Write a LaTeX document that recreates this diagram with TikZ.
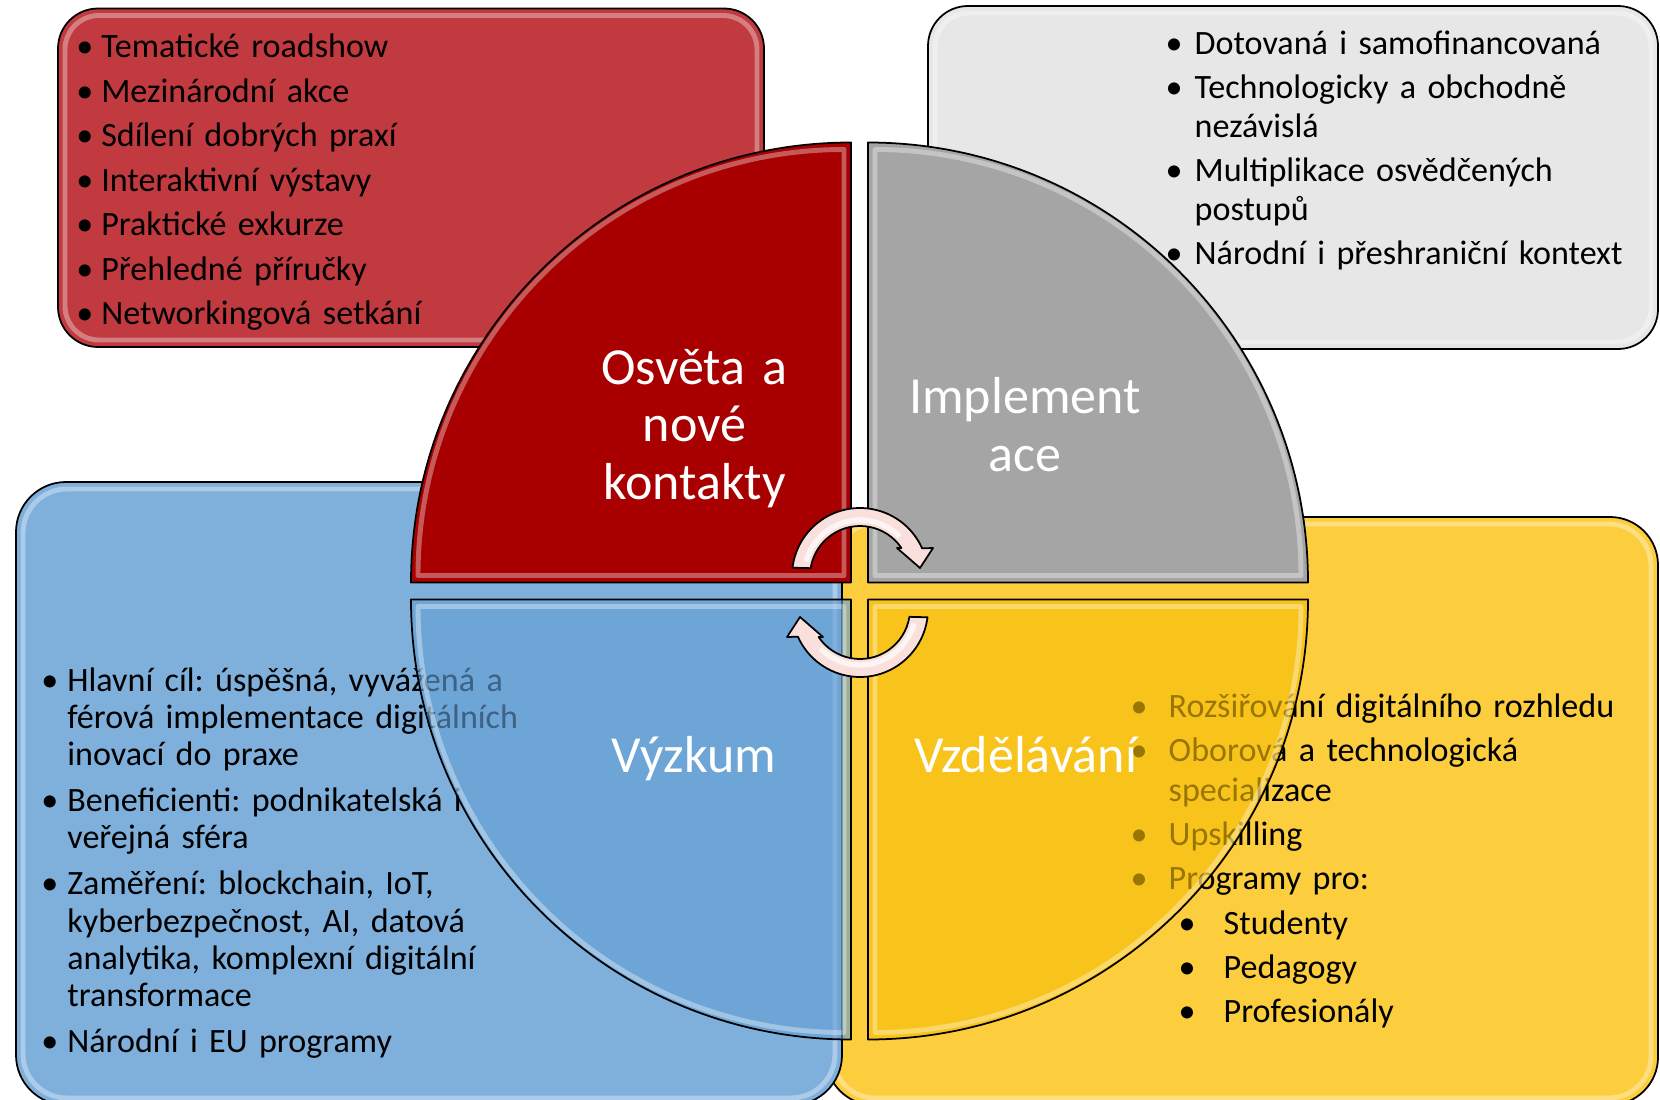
\documentclass[tikz,border=0pt]{standalone}
\usepackage{fontspec}
\setmainfont{Carlito}
\usetikzlibrary{calc}
\definecolor{redbox}{HTML}{C03A40}
\definecolor{redquad}{HTML}{A80000}
\definecolor{graybox}{HTML}{E7E7E7}
\definecolor{grayquad}{HTML}{A5A5A5}
\definecolor{bluebox}{HTML}{7FB0DC}
\definecolor{bluequad}{HTML}{649FD5}
\definecolor{yellowbox}{HTML}{FCCD3C}
\definecolor{yellowquad}{HTML}{F7C008}
\definecolor{arrowfill}{HTML}{F9E0DC}
\frenchspacing
% bullet items with hanging indent
\newcommand\bstart[1]{\hangindent=#1\hangafter=1\noindent\makebox[#1][l]{\textbullet}}
\newcommand\bitem[1]{\par\bstart{#1}}
\newcommand\sitem[2]{\par\noindent\hspace*{#1}\makebox[#2][l]{\textbullet}}
\tikzset{
	infobox/.style={draw=black, line width=0.5pt},
	gloss/.style={draw=white, draw opacity=0.35, line width=1.4pt},
	quad/.style={draw=black, line width=0.5pt},
	boxtext/.style={anchor=base west, inner sep=0pt, text width=#1},
	quadlabel/.style={anchor=base, inner sep=0pt, text width=3.4cm, align=center, text=white, font=\fontsize{14.8}{16.5}\selectfont},
	cycarrow/.style={draw=black, line width=0.5pt, fill=arrowfill},
}
\begin{document}
\begin{tikzpicture}[line join=round]
	\useasboundingbox (0,0) rectangle (16.6,10.99);
	\def\R{4.4} \def\r{4.26}
	% boxes behind the circle
	\draw[infobox, fill=redbox, rounded corners=0.4cm] (0.58,7.52) rectangle (7.64,10.905);
	\draw[gloss, rounded corners=0.34cm] (0.65,7.59) rectangle (7.57,10.835);
	\node[boxtext=6.5cm, font=\fontsize{9.7}{12.65}\selectfont] (osvetaitems) at (0.756,10.41)
	{\bstart{0.25cm}Tematické roadshow
	 \bitem{0.25cm}Mezinárodní akce
	 \bitem{0.25cm}Sdílení dobrých praxí
	 \bitem{0.25cm}Interaktivní výstavy
	 \bitem{0.25cm}Praktické exkurze
	 \bitem{0.25cm}Přehledné příručky
	 \bitem{0.25cm}Networkingová setkání};

	\draw[infobox, fill=graybox, rounded corners=0.4cm] (9.28,7.50) rectangle (16.58,10.93);
	\draw[gloss, rounded corners=0.34cm] (9.35,7.57) rectangle (16.51,10.86);
	\node[boxtext=4.8cm, font=\fontsize{9.7}{11.3}\selectfont] (implementaceitems) at (11.65,10.44)
	{\parskip=1pt
	 \bstart{0.29cm}Dotovaná i samofinancovaná
	 \bitem{0.29cm}Technologicky a obchodně\newline nezávislá
	 \bitem{0.29cm}Multiplikace osvědčených\newline postupů
	 \bitem{0.29cm}Národní i přeshraniční kontext};

	\draw[infobox, fill=yellowbox, rounded corners=0.48cm] (8.26,-0.06) rectangle (16.58,5.82);
	\draw[gloss, rounded corners=0.42cm] (8.33,0.01) rectangle (16.51,5.75);
	\node[boxtext=5cm, font=\fontsize{9.7}{11.55}\selectfont] (vzdelavaniitems) at (11.30,3.82)
	{\parskip=1pt
	 \bstart{0.38cm}Rozšiřování digitálního rozhledu
	 \bitem{0.38cm}Oborová a technologická\newline specializace
	 \bitem{0.38cm}Upskilling
	 \bitem{0.38cm}Programy pro:
	 \sitem{0.48cm}{0.45cm}Studenty
	 \sitem{0.48cm}{0.45cm}Pedagogy
	 \sitem{0.48cm}{0.45cm}Profesionály};

	\draw[infobox, fill=bluebox, rounded corners=0.5cm] (0.16,-0.06) rectangle (8.42,6.17);
	\draw[gloss, rounded corners=0.44cm] (0.23,0.01) rectangle (8.35,6.10);
	\node[boxtext=5.5cm, font=\fontsize{9.7}{10.6}\selectfont] (vyzkumitems) at (0.407,4.08)
	{\parskip=2.5pt
	 \bstart{0.26cm}Hlavní cíl: úspěšná, vyvážená a\newline férová implementace digitálních\newline inovací do praxe
	 \bitem{0.26cm}Beneficienti: podnikatelská i\newline veřejná sféra
	 \bitem{0.26cm}Zaměření: blockchain, IoT,\newline kyberbezpečnost, AI, datová\newline analytika, komplexní digitální\newline transformace
	 \bitem{0.26cm}Národní i EU programy};

	% the four quarters
	\coordinate (kred) at (8.51,5.165);
	\coordinate (kgray) at (8.68,5.165);
	\coordinate (kblue) at (8.51,4.995);
	\coordinate (kyellow) at (8.68,4.995);
	\filldraw[quad, fill=redquad] (kred) -- ++(-\R,0) arc[start angle=180, end angle=90, radius=\R] -- cycle;
	\draw[gloss] ($(kred)+(-0.07,0.07)$) -- ++(-\r,0) arc[start angle=180, end angle=90, radius=\r] -- cycle;
	\filldraw[quad, fill=grayquad] (kgray) -- ++(0,\R) arc[start angle=90, end angle=0, radius=\R] -- cycle;
	\draw[gloss] ($(kgray)+(0.07,0.07)$) -- ++(0,\r) arc[start angle=90, end angle=0, radius=\r] -- cycle;
	\filldraw[quad, fill=bluequad, fill opacity=0.62] (kblue) -- ++(0,-\R) arc[start angle=270, end angle=180, radius=\R] -- cycle;
	\draw[gloss] ($(kblue)+(-0.07,-0.07)$) -- ++(0,-\r) arc[start angle=270, end angle=180, radius=\r] -- cycle;
	\filldraw[quad, fill=yellowquad, fill opacity=0.62] (kyellow) -- ++(\R,0) arc[start angle=0, end angle=-90, radius=\R] -- cycle;
	\draw[gloss] ($(kyellow)+(0.07,-0.07)$) -- ++(\r,0) arc[start angle=0, end angle=-90, radius=\r] -- cycle;

	\node[quadlabel] (osveta) at (6.945,7.15) {Osvěta a\\nové\\kontakty};
	\node[quadlabel] (implementace) at (10.25,6.85) {Implement\\ace};
	\node[quadlabel] (vyzkum) at (6.94,3.27) {Výzkum};
	\node[quadlabel] (vzdelavani) at (10.255,3.27) {Vzdělávání};

	% circular arrows in the middle
	\coordinate (T) at (8.60,5.23);
	\coordinate (B) at (8.60,4.90);
	\filldraw[cycarrow] ($(T)+(173:0.68)$) arc[start angle=173, end angle=24, radius=0.68]
		-- ($(T)+(0.73,0.28)$) -- ($(T)+(0.60,0.08)$) -- ($(T)+(0.37,0.28)$)
		-- ($(T)+(34:0.50)$) arc[start angle=34, end angle=171, radius=0.50] -- cycle;
	\draw[white, line width=1.5pt, opacity=0.7] ($(T)+(165:0.56)$) arc[start angle=165, end angle=45, radius=0.56];
	\filldraw[cycarrow] ($(B)+(-7:0.68)$) arc[start angle=-7, end angle=-156, radius=0.68]
		-- ($(B)+(-0.73,-0.28)$) -- ($(B)+(-0.60,-0.08)$) -- ($(B)+(-0.37,-0.28)$)
		-- ($(B)+(-146:0.50)$) arc[start angle=-146, end angle=-9, radius=0.50] -- cycle;
	\draw[white, line width=1.5pt, opacity=0.7] ($(B)+(-15:0.56)$) arc[start angle=-15, end angle=-135, radius=0.56];
\end{tikzpicture}
\end{document}
